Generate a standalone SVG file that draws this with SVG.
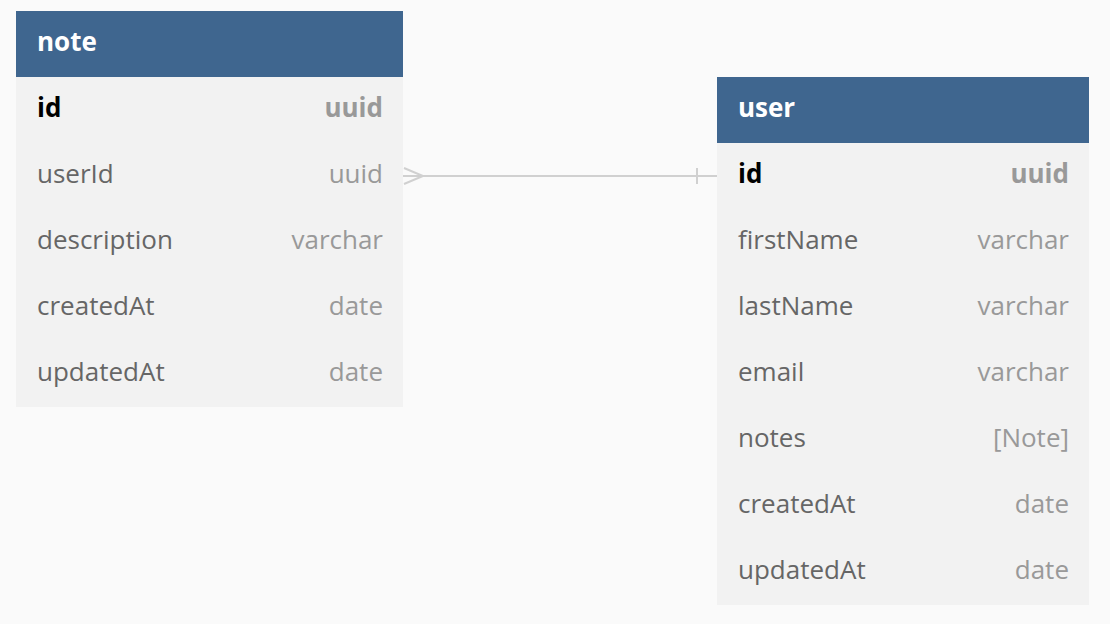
<svg xmlns="http://www.w3.org/2000/svg" width="1110" height="624" viewBox="0 0 1110 624">
<style>
.hdr{fill:#3f668f}
.row{fill:#f2f2f2}
.title{font-family:"Open Sans",sans-serif;font-size:26px;font-weight:bold;fill:#ffffff}
.f{font-family:"Open Sans",sans-serif;font-size:26px;fill:#666666}
.t{font-family:"Open Sans",sans-serif;font-size:26px;fill:#999999;text-anchor:end}
.pk{font-weight:bold;fill:#000000}
.pkt{font-weight:bold}
.conn{stroke:#d0d0d0;stroke-width:2;fill:none}
</style>
<rect width="1110" height="624" fill="#fafafa"/>
<g id="connectors">
<line class="conn" x1="403" y1="176" x2="717" y2="176"/>
<path class="conn" d="M404,168 L423,176 L404,184"/>
<line class="conn" x1="697" y1="168" x2="697" y2="184"/>
</g>
<g id="note">
<rect class="row" x="16" y="77" width="387" height="330"/>
<rect class="hdr" x="16" y="11" width="387" height="66"/>
<text class="title" x="37" y="51">note</text>
<text class="f pk" x="37" y="117">id</text><text class="t pkt" x="383" y="117">uuid</text>
<text class="f" x="37" y="183">userId</text><text class="t" x="383" y="183">uuid</text>
<text class="f" x="37" y="249">description</text><text class="t" x="383" y="249">varchar</text>
<text class="f" x="37" y="315">createdAt</text><text class="t" x="383" y="315">date</text>
<text class="f" x="37" y="381">updatedAt</text><text class="t" x="383" y="381">date</text>
</g>
<g id="user">
<rect class="row" x="717" y="143" width="372" height="462"/>
<rect class="hdr" x="717" y="77" width="372" height="66"/>
<text class="title" x="738" y="117">user</text>
<text class="f pk" x="738" y="183">id</text><text class="t pkt" x="1069" y="183">uuid</text>
<text class="f" x="738" y="249">firstName</text><text class="t" x="1069" y="249">varchar</text>
<text class="f" x="738" y="315">lastName</text><text class="t" x="1069" y="315">varchar</text>
<text class="f" x="738" y="381">email</text><text class="t" x="1069" y="381">varchar</text>
<text class="f" x="738" y="447">notes</text><text class="t" x="1069" y="447">[Note]</text>
<text class="f" x="738" y="513">createdAt</text><text class="t" x="1069" y="513">date</text>
<text class="f" x="738" y="579">updatedAt</text><text class="t" x="1069" y="579">date</text>
</g>
</svg>
